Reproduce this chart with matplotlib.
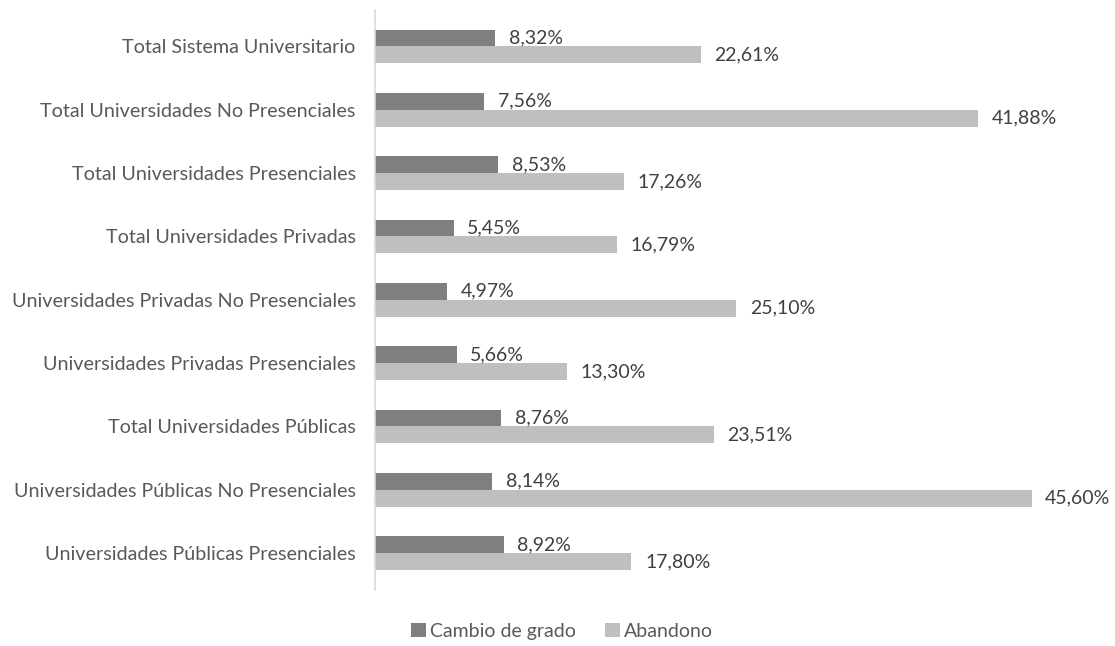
import matplotlib
matplotlib.use("Agg")
import matplotlib.pyplot as plt
import numpy as np

plt.rcParams['font.family'] = ['Lato', 'DejaVu Sans']

categories = ['Total Sistema Universitario',
              'Total Universidades No Presenciales',
              'Total Universidades Presenciales',
              'Total Universidades Privadas',
              'Universidades Privadas No Presenciales',
              'Universidades Privadas Presenciales',
              'Total Universidades Públicas',
              'Universidades Públicas No Presenciales',
              'Universidades Públicas Presenciales']
cambio = [8.32, 7.56, 8.53, 5.45, 4.97, 5.66, 8.76, 8.14, 8.92]
abandono = [22.61, 41.88, 17.26, 16.79, 25.10, 13.30, 23.51, 45.60, 17.80]
series_names = ['Cambio de grado', 'Abandono']


def fmt(v):
    return ('%.2f%%' % v).replace('.', ',')


fig = plt.figure(figsize=(11.15, 6.46), dpi=100)
ax = fig.add_axes([0.3365, 0.087, 0.6635, 0.898])

y = np.arange(len(categories))
h = 0.265
b1 = ax.barh(y - h / 2, cambio, height=h, color='#7f7f7f', label=series_names[0])
b2 = ax.barh(y + h / 2, abandono, height=h, color='#bfbfbf', label=series_names[1])

for bars, vals in ((b1, cambio), (b2, abandono)):
    for bar, v in zip(bars, vals):
        ax.text(bar.get_width() + 0.95, bar.get_y() + bar.get_height() / 2, fmt(v),
                va='center', ha='left', fontsize=14, color='#404040')

ax.set_yticks(y)
ax.set_yticklabels(categories, fontsize=14.2, color='#595959')
ax.tick_params(axis='y', length=0, pad=14)
ax.set_xticks([])
ax.set_xlim(0, 51.4)
ax.set_ylim(len(categories) - 0.42, -0.58)
for s in ['top', 'right', 'bottom']:
    ax.spines[s].set_visible(False)
ax.spines['left'].set_color('#d9d9d9')
ax.spines['left'].set_linewidth(1.2)

fig.legend(loc='lower center', bbox_to_anchor=(0.504, -0.018), ncol=2, frameon=False,
           fontsize=14, labelcolor='#595959', handlelength=0.75, handleheight=0.75,
           handletextpad=0.2, columnspacing=1.5)

fig.savefig('out.png', dpi=100)
